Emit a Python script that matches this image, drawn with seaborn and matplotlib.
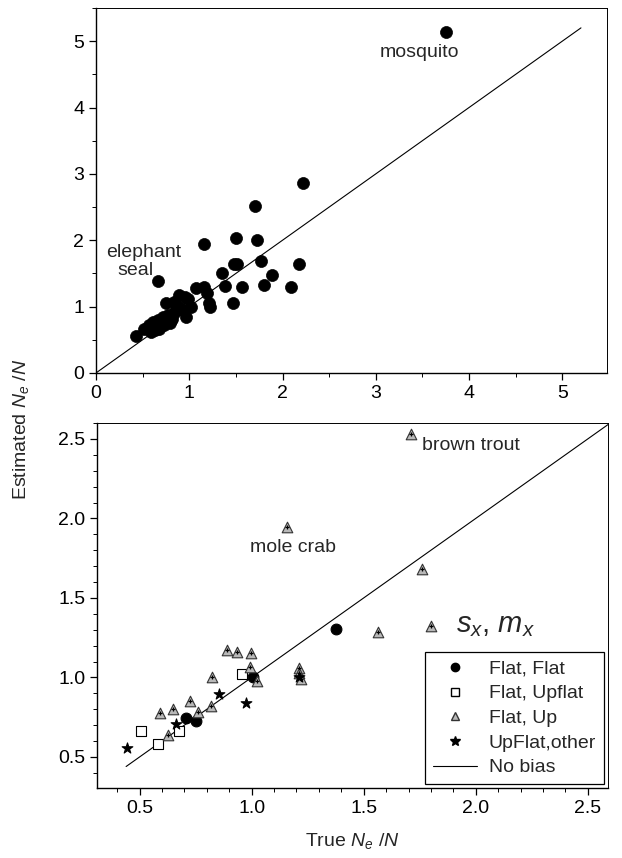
import numpy as np
import pandas as pd
import matplotlib
matplotlib.use("Agg")
import matplotlib.pyplot as plt
from matplotlib.lines import Line2D
from matplotlib.ticker import MultipleLocator, FormatStrFormatter
import seaborn as sns

# ---- top panel: all estimates (true Ne/N, estimated Ne/N) ----
top_true = [3.75, 2.22, 1.71, 1.16, 1.50, 1.73, 0.67, 1.48, 1.51, 1.77,
            2.18, 1.89, 1.35, 1.38, 1.57, 1.80, 2.09, 1.47, 1.07, 1.16,
            1.19, 1.21, 1.22, 1.02, 0.97, 0.89, 0.95, 0.99, 0.75, 0.84,
            0.89, 0.93, 0.84, 0.77, 0.72, 0.66, 0.61, 0.57, 0.64, 0.70,
            0.75, 0.81, 0.59, 0.52, 0.43, 0.63, 0.68, 0.73, 0.79, 0.86, 0.80]
top_est = [5.14, 2.86, 2.52, 1.94, 2.03, 2.01, 1.385, 1.64, 1.64, 1.68,
           1.64, 1.48, 1.51, 1.31, 1.29, 1.33, 1.29, 1.05, 1.28, 1.30,
           1.20, 1.05, 0.99, 0.99, 0.85, 1.17, 1.15, 1.12, 1.05, 1.07,
           1.00, 0.95, 0.90, 0.87, 0.85, 0.80, 0.77, 0.72, 0.70, 0.75,
           0.77, 0.82, 0.62, 0.67, 0.55, 0.65, 0.67, 0.72, 0.76, 0.95, 0.80]

# ---- bottom panel: by s_x, m_x schedule ----
flatflat_true = [1.377, 1.007, 0.706, 0.754]
flatflat_est = [1.305, 1.001, 0.743, 0.728]
flatupflat_true = [0.508, 0.582, 0.676, 0.959]
flatupflat_est = [0.665, 0.580, 0.665, 1.020]
flatup_true = [0.59, 0.65, 0.627, 0.727, 0.76, 0.82, 0.825, 0.892, 0.933, 0.995,
               0.992, 1.022, 1.213, 1.213, 1.219, 1.566, 1.16, 1.71, 1.76, 1.80]
flatup_est = [0.775, 0.80, 0.638, 0.854, 0.785, 0.82, 1.00, 1.17, 1.162, 1.152,
              1.064, 0.98, 1.058, 1.03, 0.99, 1.288, 1.948, 2.53, 1.68, 1.324]
upflat_true = [0.445, 0.661, 0.855, 0.973, 1.213]
upflat_est = [0.557, 0.708, 0.894, 0.838, 1.005]

nobias_top = [0.0, 5.2]
nobias_bottom = [0.44, 2.6]

sns.set_theme(style="ticks")
plt.rcParams['font.family'] = ['Liberation Sans', 'DejaVu Sans']
plt.rcParams['mathtext.fontset'] = 'custom'
plt.rcParams['mathtext.rm'] = 'Liberation Sans'
plt.rcParams['mathtext.it'] = 'Liberation Sans:italic'
plt.rcParams['axes.edgecolor'] = 'black'
plt.rcParams['axes.linewidth'] = 1.0
plt.rcParams['xtick.color'] = 'black'
plt.rcParams['ytick.color'] = 'black'

FS = 14

fig = plt.figure(figsize=(6.22, 8.58), dpi=100)
ax1 = fig.add_axes([0.1543, 0.5653, 0.976 - 0.1543, 0.9907 - 0.5653])
ax2 = fig.add_axes([0.1559, 0.0816, 0.9775 - 0.1559, 0.507 - 0.0816])

# top panel
df_top = pd.DataFrame({'true': top_true, 'est': top_est})
sns.scatterplot(data=df_top, x='true', y='est', ax=ax1, color='black',
                edgecolor='black', s=75, marker='o', linewidth=0.5, zorder=3)
sns.lineplot(x=nobias_top, y=nobias_top, ax=ax1, color='black', linewidth=0.8)
ax1.set_xlim(0, 5.48)
ax1.set_ylim(0, 5.5)
ax1.xaxis.set_major_locator(MultipleLocator(1))
ax1.xaxis.set_minor_locator(MultipleLocator(0.5))
ax1.yaxis.set_major_locator(MultipleLocator(1))
ax1.yaxis.set_minor_locator(MultipleLocator(0.5))
ax1.set_xlabel('')
ax1.set_ylabel('')
ax1.text(3.47, 4.83, 'mosquito', ha='center', va='center', fontsize=FS)
ax1.text(0.51, 1.82, 'elephant', ha='center', va='center', fontsize=FS)
ax1.text(0.42, 1.54, 'seal', ha='center', va='center', fontsize=FS)

# bottom panel
groups = [
    (flatflat_true, flatflat_est, 'o', 'black', 'black', 60),
    (flatupflat_true, flatupflat_est, 's', 'white', 'black', 48),
    (flatup_true, flatup_est, '^', '#b8b8b8', '#333333', 58),
    (upflat_true, upflat_est, '*', 'black', 'black', 65),
]
for xs, ys, mk, fc, ec, sz in groups:
    sns.scatterplot(x=xs, y=ys, ax=ax2, marker=mk, color=fc, edgecolor=ec,
                    s=sz, linewidth=0.8, zorder=3)
# inner mark of the triangles
sns.scatterplot(x=flatup_true, y=flatup_est, ax=ax2, marker='+', color='black',
                s=12, linewidth=0.9, zorder=4)
sns.lineplot(x=nobias_bottom, y=nobias_bottom, ax=ax2, color='black', linewidth=0.8)
ax2.set_xlim(0.31, 2.59)
ax2.set_ylim(0.305, 2.6)
ax2.xaxis.set_major_locator(MultipleLocator(0.5))
ax2.xaxis.set_minor_locator(MultipleLocator(0.1))
ax2.yaxis.set_major_locator(MultipleLocator(0.5))
ax2.yaxis.set_minor_locator(MultipleLocator(0.1))
ax2.xaxis.set_major_formatter(FormatStrFormatter('%.1f'))
ax2.yaxis.set_major_formatter(FormatStrFormatter('%.1f'))
ax2.set_ylabel('')
ax2.set_xlabel(r'True $N_e$ /$N$', fontsize=FS, labelpad=10)
ax2.text(1.185, 1.82, 'mole crab', ha='center', va='center', fontsize=FS)
ax2.text(1.76, 2.46, 'brown trout', ha='left', va='center', fontsize=FS)
ax2.text(0.78, 0.447, r'$s_x$, $m_x$', transform=ax2.transAxes,
         ha='center', va='center', fontsize=21)

handles = [
    Line2D([], [], marker='o', color='black', linestyle='none', markersize=6),
    Line2D([], [], marker='s', markerfacecolor='white', markeredgecolor='black',
           linestyle='none', markersize=5.5),
    Line2D([], [], marker='^', markerfacecolor='#b8b8b8', markeredgecolor='#333333',
           linestyle='none', markersize=6),
    Line2D([], [], marker='*', color='black', linestyle='none', markersize=7),
    Line2D([], [], color='black', linewidth=0.8),
]
labels = ['Flat, Flat', 'Flat, Upflat', 'Flat, Up', 'UpFlat,other', 'No bias']
leg = ax2.legend(handles, labels, loc='lower right', fontsize=FS, frameon=True,
                 fancybox=False, edgecolor='black', framealpha=1,
                 handlelength=2.3, handletextpad=0.6, borderaxespad=0.2,
                 labelspacing=0.36, borderpad=0.4)
leg.get_frame().set_linewidth(0.9)

for ax in (ax1, ax2):
    ax.tick_params(which='major', direction='out', length=5, width=0.9, labelsize=FS)
    ax.tick_params(which='minor', direction='out', length=3, width=0.7)
    for sp in ax.spines.values():
        sp.set_visible(True)
        sp.set_color('black')
    ax.spines['top'].set_linewidth(0.7)
    ax.spines['right'].set_linewidth(0.7)

fig.text(0.033, 0.5, r'Estimated $N_e$ /$N$', rotation=90, ha='center',
         va='center', fontsize=FS)

plt.savefig('out.png', dpi=100)
